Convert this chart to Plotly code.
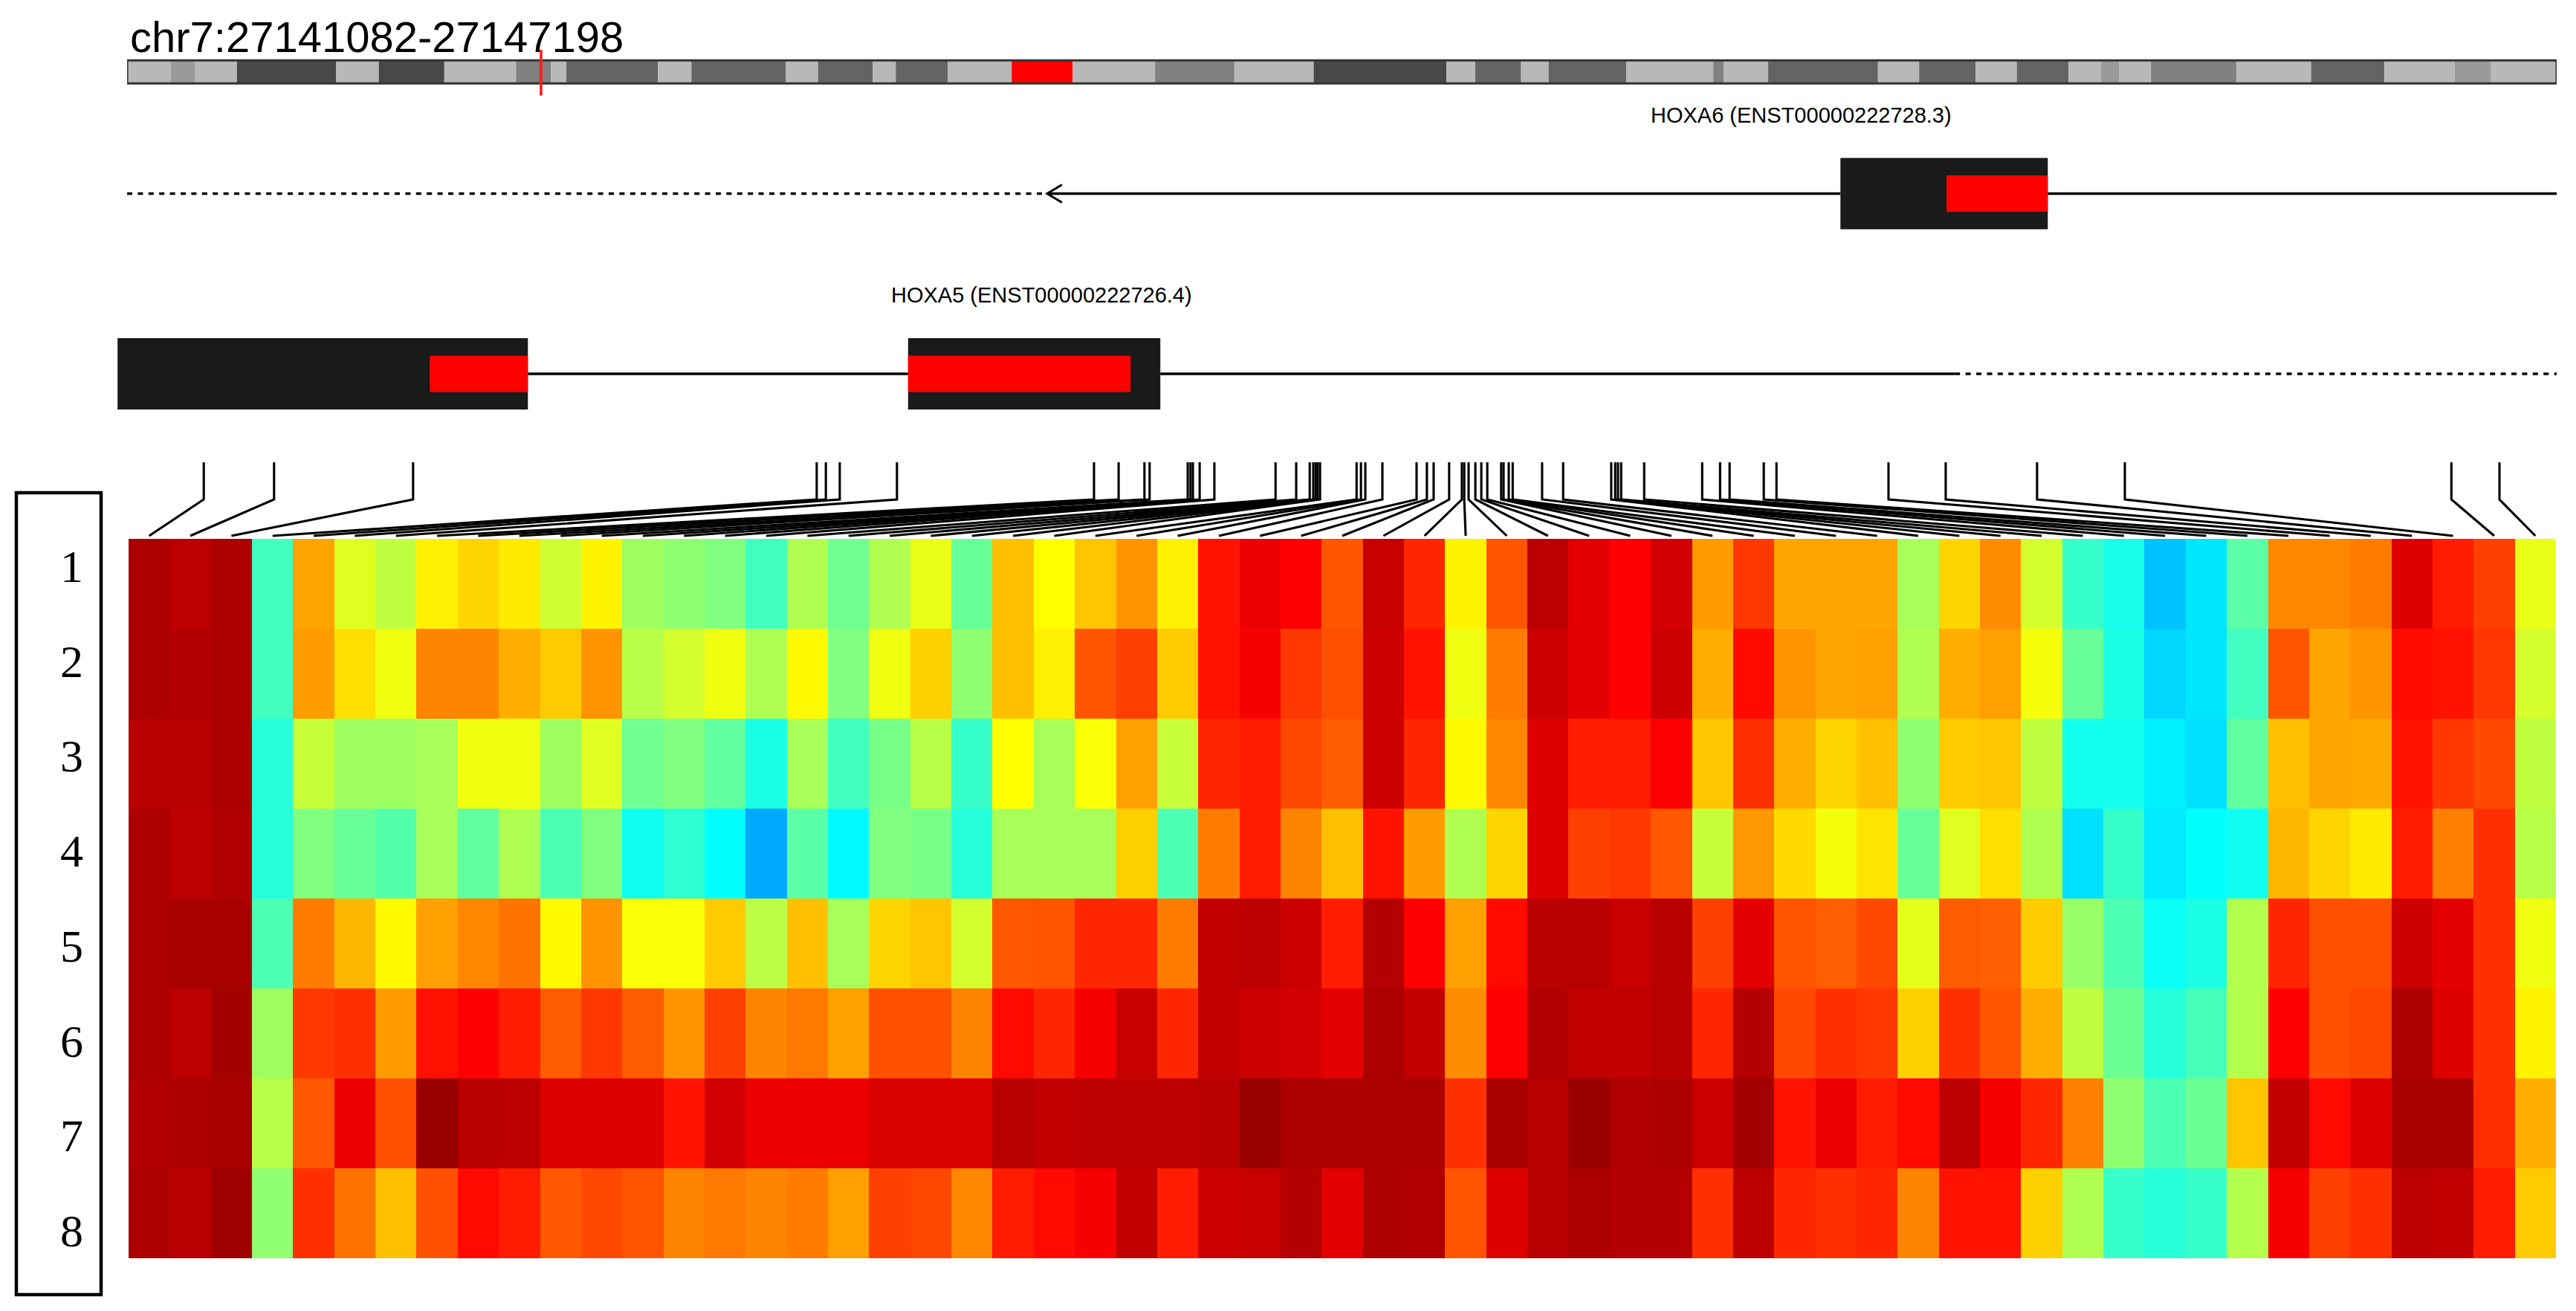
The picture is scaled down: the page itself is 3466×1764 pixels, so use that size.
import plotly.graph_objects as go

W, H = 3466, 1764

# genome window shown in the tracks
region_start = 27141082
region_end = 27147198

# cytobands of chr7 (Mb), band colours
band_edges = [0, 2.85, 4.47, 7.2, 13.7, 16.5, 20.8, 25.5, 27.8, 28.8,
              34.8, 37.0, 43.2, 45.3, 48.9, 50.4, 53.8, 58.0, 62.0, 67.4,
              72.6, 77.8, 86.5, 88.4, 91.4, 93.2, 98.3, 104.0, 104.7, 107.6,
              114.8, 117.5, 121.2, 123.9, 127.3, 129.4, 130.6, 132.7, 138.3, 143.2,
              148.0, 152.6, 155.0, 159.3]
band_shades = ["#b8b8b8", "#9a9a9a", "#b8b8b8", "#484848", "#b8b8b8", "#484848", "#b8b8b8", "#808080",
               "#b8b8b8", "#646464", "#b8b8b8", "#646464", "#b8b8b8", "#646464", "#b8b8b8", "#646464",
               "#b8b8b8", "#ff0000", "#b8b8b8", "#808080", "#b8b8b8", "#484848", "#b8b8b8", "#646464",
               "#b8b8b8", "#646464", "#b8b8b8", "#808080", "#b8b8b8", "#646464", "#b8b8b8", "#646464",
               "#b8b8b8", "#646464", "#b8b8b8", "#9a9a9a", "#b8b8b8", "#808080", "#b8b8b8", "#646464",
               "#b8b8b8", "#9a9a9a", "#b8b8b8"]
region_mb = 27.14

# gene models, genomic coordinates
hoxa6_exons = [(27145395, 27145917)]
hoxa6_cds = [(27145662, 27145917)]
hoxa6_utr_end = 27143398
hoxa5_exons = [(27141058, 27142091), (27143048, 27143683)]
hoxa5_cds = [(27141844, 27142091), (27143048, 27143608)]
hoxa5_line_end = 27145683

# probe positions, one per heatmap column
cpg_positions = [27141275, 27141452, 27141802, 27142818, 27142841, 27142876, 27143020, 27143516,
                 27143578, 27143643, 27143656, 27143752, 27143759, 27143765, 27143782, 27143819,
                 27143973, 27144025, 27144059, 27144068, 27144074, 27144079, 27144085, 27144177,
                 27144188, 27144199, 27144242, 27144328, 27144354, 27144371, 27144410, 27144442,
                 27144448, 27144459, 27144476, 27144491, 27144506, 27144541, 27144547, 27144560,
                 27144570, 27144644, 27144697, 27144818, 27144828, 27144835, 27144843, 27144901,
                 27145047, 27145092, 27145116, 27145202, 27145234, 27145516, 27145660, 27145890,
                 27146111, 27146933, 27147054]

row_labels = ["1", "2", "3", "4", "5", "6", "7", "8"]

row_1 = [.96, .94, .96, .43, .73, .61, .57, .655, .68, .66, .59, .65, .51, .50, .49, .43, .53, .47, .53, .62,
         .46, .70, .64, .695, .75, .655, .88, .90, .89, .84, .93, .87, .65, .84, .94, .905, .89, .92, .74, .86,
         .73, .73, .73, .52, .68, .76, .60, .42, .385, .30, .335, .45, .765, .765, .78, .91, .875, .855, .62]
row_2 = [.96, .95, .96, .43, .74, .67, .625, .77, .77, .72, .69, .75, .55, .60, .625, .53, .645, .49, .625, .685,
         .50, .70, .655, .84, .855, .69, .88, .895, .86, .845, .925, .88, .625, .78, .925, .905, .89, .925, .72, .885,
         .75, .73, .735, .53, .72, .735, .63, .46, .39, .32, .335, .43, .84, .73, .75, .885, .88, .86, .60]
row_3 = [.945, .945, .96, .40, .58, .51, .51, .52, .625, .625, .51, .61, .47, .49, .455, .39, .52, .43, .48, .55,
         .42, .64, .52, .635, .735, .58, .87, .875, .85, .83, .925, .87, .645, .765, .91, .875, .875, .89, .695, .865,
         .72, .68, .70, .50, .69, .695, .57, .38, .38, .345, .33, .455, .70, .73, .725, .88, .86, .85, .57]
row_4 = [.96, .94, .955, .40, .49, .46, .445, .52, .455, .53, .44, .49, .375, .41, .36, .275, .45, .355, .49, .48,
         .40, .52, .52, .52, .685, .44, .78, .875, .77, .70, .88, .74, .53, .68, .91, .855, .86, .835, .58, .745,
         .675, .63, .665, .46, .61, .67, .53, .33, .42, .34, .36, .375, .71, .68, .66, .875, .775, .865, .55]
row_5 = [.96, .965, .965, .44, .78, .71, .645, .735, .765, .79, .645, .75, .635, .635, .69, .56, .70, .52, .68, .695,
         .60, .835, .84, .87, .87, .78, .935, .94, .925, .875, .95, .89, .735, .885, .945, .945, .93, .945, .855, .905,
         .84, .825, .85, .615, .83, .825, .69, .505, .44, .37, .39, .54, .87, .845, .845, .925, .905, .865, .625]
row_6 = [.96, .94, .97, .51, .86, .865, .74, .88, .89, .875, .83, .86, .83, .75, .855, .77, .785, .735, .845, .845,
         .77, .885, .87, .895, .93, .87, .935, .925, .92, .905, .96, .935, .76, .89, .955, .935, .935, .945, .87, .95,
         .85, .865, .86, .685, .865, .84, .72, .57, .465, .40, .435, .54, .89, .845, .85, .96, .91, .865, .65]
row_7 = [.955, .96, .965, .55, .835, .90, .845, .98, .945, .94, .91, .91, .91, .88, .92, .90, .90, .90, .915, .915,
         .915, .945, .935, .94, .94, .94, .945, .98, .96, .96, .96, .96, .865, .965, .945, .98, .955, .96, .925, .97,
         .88, .90, .875, .885, .94, .895, .87, .775, .50, .44, .465, .695, .935, .885, .91, .965, .965, .865, .72]
row_8 = [.96, .945, .975, .50, .865, .79, .70, .845, .885, .875, .835, .85, .84, .77, .785, .77, .78, .735, .855, .85,
         .765, .875, .885, .895, .935, .875, .925, .93, .95, .905, .96, .955, .84, .91, .945, .96, .95, .95, .865, .94,
         .87, .865, .87, .77, .88, .88, .685, .53, .42, .40, .42, .54, .895, .855, .865, .94, .935, .875, .69]
methylation = [row_1, row_2, row_3, row_4, row_5, row_6, row_7, row_8]

# jet-like ramp, stops tuned against the picture
jet_scale = [[0, "#000080"], [.11, "#0000ff"], [.36, "#00ffff"], [.43, "#40ffc0"], [.46, "#68ff98"],
             [.49, "#80ff80"], [.51, "#a0ff60"], [.53, "#b0ff50"], [.57, "#c0ff40"], [.60, "#d4ff2c"],
             [.625, "#f0ff10"], [.64, "#ffff00"], [.70, "#ffc000"], [.735, "#ffa000"], [.77, "#ff8400"],
             [.80, "#ff6c00"], [.83, "#ff5c00"], [.845, "#ff5000"], [.865, "#ff3000"], [.875, "#ff1c00"],
             [.89, "#ff0000"], [.905, "#e40000"], [.925, "#cc0000"], [.94, "#bc0000"], [.96, "#ac0000"],
             [.98, "#9a0000"], [1, "#800000"]]

# page layout in pixels
TRACK_L, TRACK_R = 171, 3440
HEAT_L, HEAT_R, HEAT_T, HEAT_B = 173, 3439, 725, 1693
per_px = (region_end - region_start) / (TRACK_R - TRACK_L)


def px_to_genome(px):
    return region_start + (px - TRACK_L) * per_px


def y_paper(py):
    return 1 - py / H


fig = go.Figure()

# ideogram
fig.add_trace(go.Bar(
    x=[b - a for a, b in zip(band_edges, band_edges[1:])], base=band_edges[:-1],
    y=[97] * len(band_shades), width=32, orientation="h",
    marker=dict(color=band_shades, line_width=0),
    xaxis="x3", yaxis="y3", hoverinfo="skip",
))
chrom_len = band_edges[-1]
fig.add_trace(go.Scatter(
    x=[0, chrom_len, chrom_len, 0, 0], y=[81.3, 81.3, 112.2, 112.2, 81.3], mode="lines",
    line=dict(color="#333333", width=3), xaxis="x3", yaxis="y3", hoverinfo="skip",
))
fig.add_trace(go.Scatter(
    x=[region_mb, region_mb], y=[67, 128.5], mode="lines",
    line=dict(color="#ff1a1a", width=3.6), xaxis="x3", yaxis="y3", hoverinfo="skip",
))


def gene_line(x0, x1, y, dotted=False):
    fig.add_trace(go.Scatter(
        x=[x0, x1], y=[y, y], mode="lines", hoverinfo="skip",
        line=dict(color="black", width=3.5, dash="7px,7.4px" if dotted else "solid"),
    ))


def gene_boxes(exons, cds, y):
    for a, b in exons:
        fig.add_shape(type="rect", x0=a, x1=b, y0=y - 48, y1=y + 48, xref="x", yref="y",
                      fillcolor="#1a1a1a", line_width=0)
    for a, b in cds:
        fig.add_shape(type="rect", x0=a, x1=b, y0=y - 24.5, y1=y + 24.5, xref="x", yref="y",
                      fillcolor="#ff0000", line_width=0)


# HOXA6
y6 = 260.5
gene_line(region_start, hoxa6_utr_end, y6, dotted=True)
gene_line(hoxa6_utr_end, hoxa6_exons[0][0], y6)
gene_line(hoxa6_exons[0][1], region_end, y6)
gene_boxes(hoxa6_exons, hoxa6_cds, y6)
arrow_tip = hoxa6_utr_end
arrow_back = arrow_tip + 20 * per_px
fig.add_trace(go.Scatter(
    x=[arrow_back, arrow_tip, arrow_back], y=[y6 - 12, y6, y6 + 12], mode="lines", hoverinfo="skip",
    line=dict(color="black", width=3),
))

# HOXA5
y5 = 503
gene_line(hoxa5_exons[0][1], hoxa5_exons[1][0], y5)
gene_line(hoxa5_exons[1][1], hoxa5_line_end, y5)
gene_line(hoxa5_line_end, region_end, y5, dotted=True)
gene_boxes(hoxa5_exons, hoxa5_cds, y5)

# connectors from probe position down to heatmap column
col_w = (HEAT_R - HEAT_L) / len(cpg_positions)
link_x, link_y = [], []
for i, pos in enumerate(cpg_positions):
    col_x = px_to_genome(HEAT_L + (i + 0.5) * col_w)
    link_x += [pos, pos, col_x, None]
    link_y += [622, 672, 721, None]
fig.add_trace(go.Scatter(x=link_x, y=link_y, mode="lines", hoverinfo="skip",
                         line=dict(color="black", width=3.1)))

# heatmap
fig.add_trace(go.Heatmap(
    z=methylation, colorscale=jet_scale, zmin=0, zmax=1, showscale=False,
    xaxis="x2", yaxis="y2", hoverinfo="skip",
))

labels = [
    dict(text="chr7:27141082-27147198", x=173 / W, y=y_paper(50), xanchor="left", size=58, family="Liberation Sans"),
    dict(text="HOXA6 (ENST00000222728.3)", x=2423 / W, y=y_paper(155), xanchor="center", size=29, family="Liberation Sans"),
    dict(text="HOXA5 (ENST00000222726.4)", x=1401 / W, y=y_paper(397), xanchor="center", size=29, family="Liberation Sans"),
]
for i, lab in enumerate(row_labels):
    labels.append(dict(text=lab, x=96 / W, y=y_paper(762 + i * 127.7), xanchor="center", size=62,
                       family="Liberation Serif"))
for lab in labels:
    fig.add_annotation(text=lab["text"], x=lab["x"], y=lab["y"], xref="paper", yref="paper",
                       xanchor=lab["xanchor"], yanchor="middle", showarrow=False,
                       font=dict(size=lab["size"], family=lab["family"], color="black"))

# box round the row numbers
fig.add_shape(type="rect", x0=22 / W, x1=136 / W, y0=y_paper(663), y1=y_paper(1742), xref="paper", yref="paper",
              line=dict(color="black", width=4.5), fillcolor="rgba(0,0,0,0)")

hidden = dict(visible=False, fixedrange=True)
fig.update_layout(
    width=W, height=H, margin=dict(l=0, r=0, t=0, b=0),
    paper_bgcolor="white", plot_bgcolor="rgba(0,0,0,0)",
    showlegend=False, barmode="overlay",
    xaxis=dict(range=[px_to_genome(0), px_to_genome(W)], domain=[0, 1], **hidden),
    yaxis=dict(range=[H, 0], domain=[0, 1], **hidden),
    xaxis2=dict(range=[-0.5, 58.5], domain=[HEAT_L / W, HEAT_R / W], anchor="y2", **hidden),
    yaxis2=dict(range=[7.5, -0.5], domain=[y_paper(HEAT_B), y_paper(HEAT_T)], anchor="x2", **hidden),
    xaxis3=dict(range=[0, chrom_len], domain=[TRACK_L / W, TRACK_R / W], anchor="y3", **hidden),
    yaxis3=dict(range=[135, 60], domain=[y_paper(135), y_paper(60)], anchor="x3", **hidden),
)

fig.write_html("out.html", config={"displayModeBar": False}, post_script="document.body.style.margin='0';")
